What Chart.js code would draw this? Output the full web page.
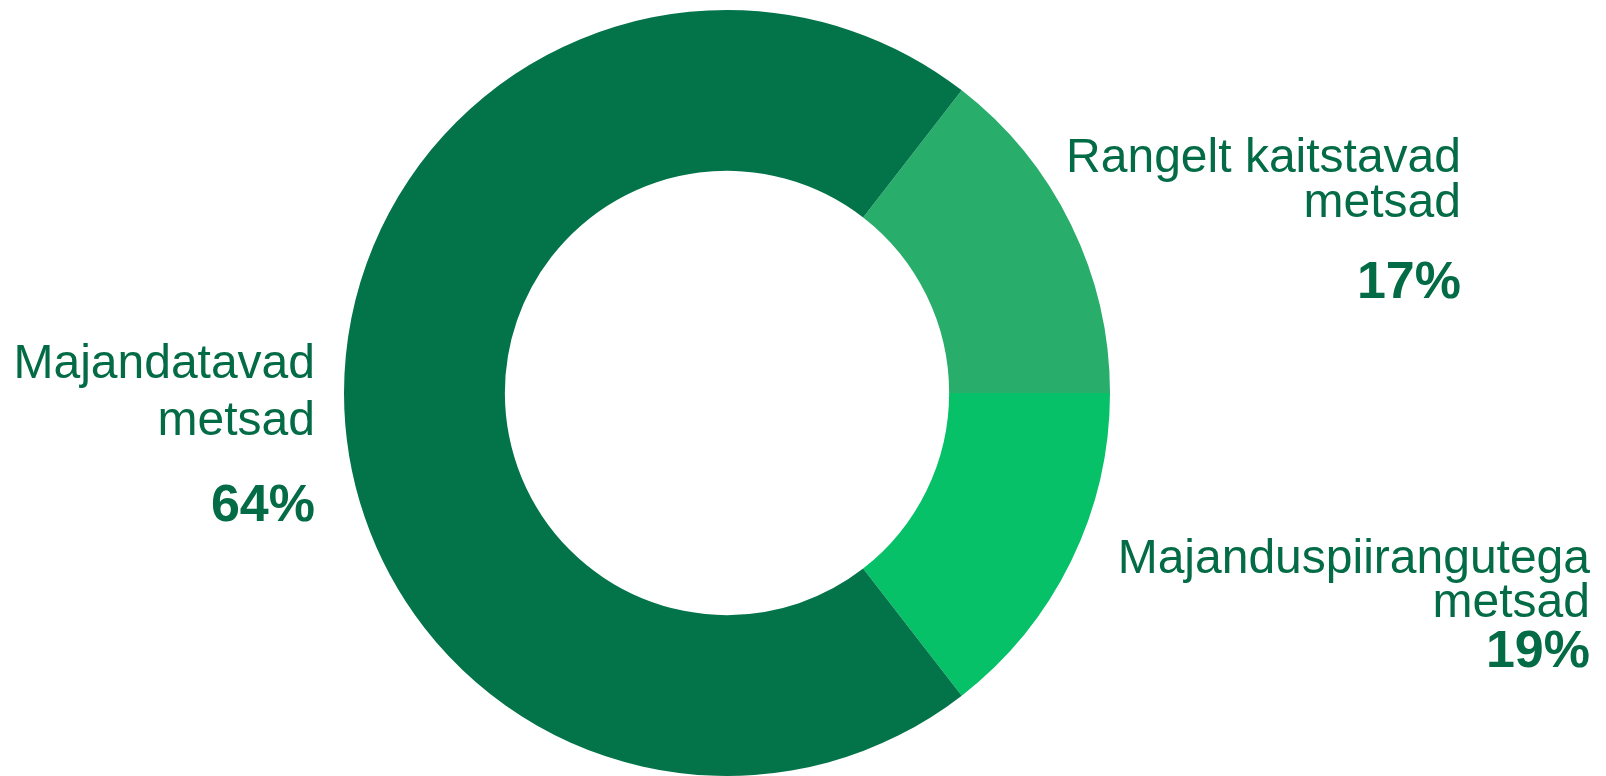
<!DOCTYPE html>
<html>
<head>
<meta charset="utf-8">
<script src="https://cdn.jsdelivr.net/npm/chart.js@4/dist/chart.umd.min.js"></script>
<style>
  html, body { margin: 0; padding: 0; background: #ffffff; }
  #wrap { width: 1606px; height: 776px; position: relative; }
</style>
</head>
<body>
<div id="wrap"><canvas id="c" width="1606" height="776"></canvas></div>
<script>
// ---- data ----
const categories = ['Rangelt kaitstavad metsad', 'Majanduspiirangutega metsad', 'Majandatavad metsad'];
const labelLines = [['Rangelt kaitstavad', 'metsad'], ['Majanduspiirangutega', 'metsad'], ['Majandatavad', 'metsad']];
const percentLabels = ['17%', '19%', '64%'];
// slice sizes as drawn in the picture (share of the full circle, %)
const sliceValues = [14.5, 14.5, 71.0];
const sliceColors = ['#29AD6B', '#06C168', '#03744A'];

const textColor = '#036B46';

// label placement relative to the donut centre (pixels)
const labelPlacement = [
  { dx: 734, lines: [-221, -176], pct: -95 },
  { dx: 863, lines: [180, 224], pct: 274 },
  { dx: -412, lines: [-15, 42], pct: 128 }
];

const labelPlugin = {
  id: 'sideLabels',
  afterDatasetsDraw(chart) {
    const meta = chart.getDatasetMeta(0);
    const arc = meta.data[0];
    const cx = arc.x, cy = arc.y;
    const ctx = chart.ctx;
    ctx.save();
    ctx.fillStyle = textColor;
    ctx.textAlign = 'right';
    ctx.textBaseline = 'alphabetic';
    labelPlacement.forEach((p, i) => {
      const x = cx + p.dx;
      ctx.font = '48px "Liberation Sans", Arial, sans-serif';
      labelLines[i].forEach((t, j) => {
        ctx.fillText(t, x, cy + p.lines[j]);
      });
      ctx.font = 'bold 52px "Liberation Sans", Arial, sans-serif';
      ctx.fillText(percentLabels[i], x, cy + p.pct);
    });
    ctx.restore();
  }
};

new Chart(document.getElementById('c'), {
  type: 'doughnut',
  data: {
    labels: categories,
    datasets: [{
      data: sliceValues,
      backgroundColor: sliceColors,
      borderWidth: 0,
      hoverOffset: 0
    }]
  },
  options: {
    responsive: false,
    animation: false,
    devicePixelRatio: 1,
    cutout: '58%',
    rotation: 37.8,
    layout: { padding: { top: 10, bottom: 0, left: 0, right: 152 } },
    plugins: {
      legend: { display: false },
      tooltip: { enabled: false }
    }
  },
  plugins: [labelPlugin]
});
</script>
</body>
</html>
